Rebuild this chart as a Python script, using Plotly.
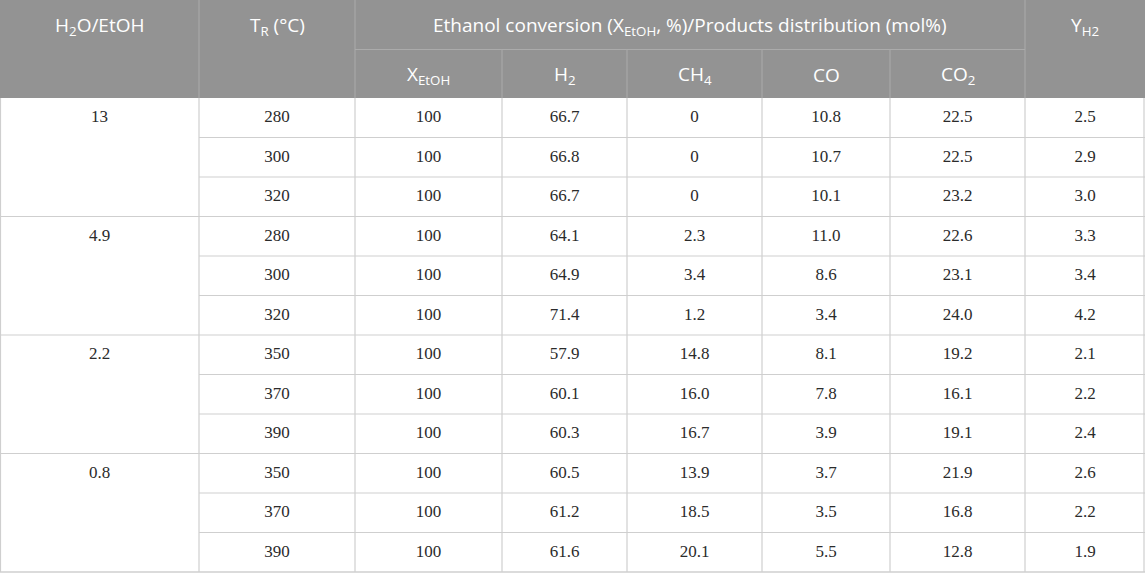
import plotly.graph_objects as go

# 표 데이터 (H2O/EtOH 비율별 반응 결과)
ratio_groups = ["13", "4.9", "2.2", "0.8"]
temps = ["280", "300", "320", "280", "300", "320", "350", "370", "390", "350", "370", "390"]
x_etoh = ["100", "100", "100", "100", "100", "100", "100", "100", "100", "100", "100", "100"]
h2 = ["66.7", "66.8", "66.7", "64.1", "64.9", "71.4", "57.9", "60.1", "60.3", "60.5", "61.2", "61.6"]
ch4 = ["0", "0", "0", "2.3", "3.4", "1.2", "14.8", "16.0", "16.7", "13.9", "18.5", "20.1"]
co = ["10.8", "10.7", "10.1", "11.0", "8.6", "3.4", "8.1", "7.8", "3.9", "3.7", "3.5", "5.5"]
co2 = ["22.5", "22.5", "23.2", "22.6", "23.1", "24.0", "19.2", "16.1", "19.1", "21.9", "16.8", "12.8"]
y_h2 = ["2.5", "2.9", "3.0", "3.3", "3.4", "4.2", "2.1", "2.2", "2.4", "2.6", "2.2", "1.9"]

top_headers = ["H<sub>2</sub>O/EtOH", "T<sub>R</sub> (°C)",
               "Ethanol conversion (X<sub>EtOH</sub>, %)/Products distribution (mol%)",
               "Y<sub>H2</sub>"]
sub_headers = ["X<sub>EtOH</sub>", "H<sub>2</sub>", "CH<sub>4</sub>", "CO", "CO<sub>2</sub>"]

# 레이아웃 (픽셀 단위 좌표계)
W, H = 1145, 574
col_edges = [0, 199, 355, 502, 627, 762, 890, 1025, 1145]
head_mid = 49.5
head_bot = 98
body_bot = 572
n_rows = len(temps)
row_h = (body_bot - head_bot) / n_rows
group_size = 3

header_bg = "#939393"
header_line = "#ababab"
grid_color = "#cfcfcf"
text_color = "#2b2b2b"
head_font = dict(family="Open Sans", size=19, color="white")

fig = go.Figure()
shapes = []

# 헤더 배경
shapes.append(dict(type="rect", x0=0, x1=W, y0=0, y1=head_bot,
                   fillcolor=header_bg, line_width=0, layer="below"))

# 헤더 구분선
for x in [col_edges[1], col_edges[2], col_edges[7]]:
    shapes.append(dict(type="line", x0=x, x1=x, y0=0, y1=head_bot,
                       line=dict(color=header_line, width=1)))
shapes.append(dict(type="line", x0=col_edges[2], x1=col_edges[7], y0=head_mid, y1=head_mid,
                   line=dict(color=header_line, width=1)))
for x in col_edges[3:7]:
    shapes.append(dict(type="line", x0=x, x1=x, y0=head_mid, y1=head_bot,
                       line=dict(color=header_line, width=1)))

# 본문 세로선
for x in col_edges[1:8]:
    shapes.append(dict(type="line", x0=x, x1=x, y0=head_bot, y1=body_bot,
                       line=dict(color=grid_color, width=1.2)))

# 본문 가로선 (첫 열은 그룹 경계에서만)
for i in range(1, n_rows):
    y = head_bot + i * row_h
    x0 = 0 if i % group_size == 0 else col_edges[1]
    shapes.append(dict(type="line", x0=x0, x1=W, y0=y, y1=y,
                       line=dict(color=grid_color, width=1.2)))

# 외곽선
shapes.append(dict(type="line", x0=0, x1=W, y0=body_bot, y1=body_bot,
                   line=dict(color=grid_color, width=1.5)))
shapes.append(dict(type="line", x0=0.5, x1=0.5, y0=head_bot, y1=body_bot,
                   line=dict(color=grid_color, width=1.2)))
shapes.append(dict(type="line", x0=W - 1, x1=W - 1, y0=head_bot, y1=body_bot,
                   line=dict(color=grid_color, width=1.2)))

# 헤더 텍스트
annotations = []
top_spans = [(0, 1), (1, 2), (2, 7), (7, 8)]
for label, (a, b) in zip(top_headers, top_spans):
    annotations.append(dict(x=(col_edges[a] + col_edges[b]) / 2, y=head_mid / 2 + 1,
                            text=label, showarrow=False, xref="x", yref="y",
                            font=head_font))
for j, label in enumerate(sub_headers):
    annotations.append(dict(x=(col_edges[j + 2] + col_edges[j + 3]) / 2,
                            y=(head_mid + head_bot) / 2 + 1,
                            text=label, showarrow=False, xref="x", yref="y",
                            font=head_font))

# 본문 셀 텍스트
row_centers = [head_bot + (i + 0.5) * row_h for i in range(n_rows)]
columns = [temps, x_etoh, h2, ch4, co, co2, y_h2]
xs, ys, texts = [], [], []
for g, label in enumerate(ratio_groups):
    xs.append((col_edges[0] + col_edges[1]) / 2)
    ys.append(row_centers[g * group_size])
    texts.append(label)
for j, col in enumerate(columns):
    cx = (col_edges[j + 1] + col_edges[j + 2]) / 2
    for i, v in enumerate(col):
        xs.append(cx)
        ys.append(row_centers[i])
        texts.append(v)

fig.add_trace(go.Scatter(
    x=xs, y=ys, text=texts, mode="text", hoverinfo="skip",
    textfont=dict(family="Liberation Serif", size=17, color=text_color),
    textposition="middle center", showlegend=False
))

fig.update_layout(
    width=W, height=H,
    margin=dict(l=0, r=0, t=0, b=0),
    paper_bgcolor="white", plot_bgcolor="white",
    xaxis=dict(range=[0, W], visible=False, fixedrange=True),
    yaxis=dict(range=[H, 0], visible=False, fixedrange=True),
    shapes=shapes, annotations=annotations
)

# 페이지 기본 여백 제거
fig.write_html("out.html", config={"displayModeBar": False},
               post_script="document.body.style.margin='0';")
